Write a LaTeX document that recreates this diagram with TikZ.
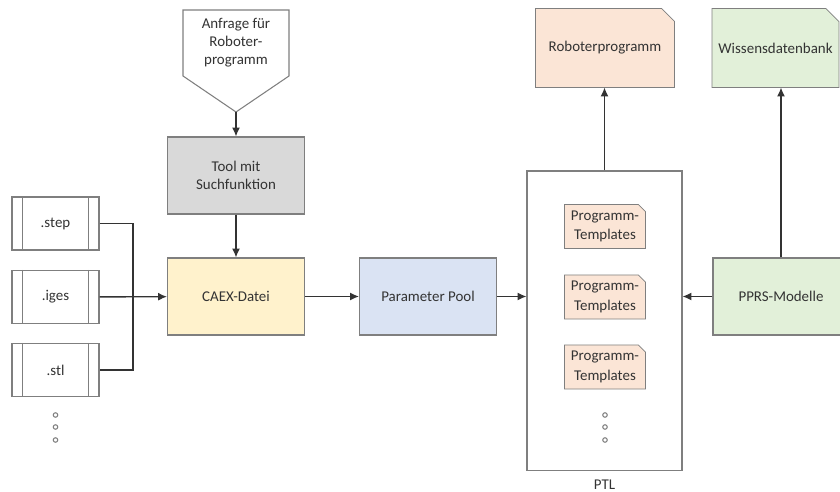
\documentclass[tikz,border=0pt]{standalone}
\usepackage{fontspec}
\setmainfont{Carlito}
\usetikzlibrary{arrows.meta,backgrounds}

\definecolor{boxline}{HTML}{7F7F7F}
\definecolor{toolgray}{HTML}{D9D9D9}
\definecolor{caexyellow}{HTML}{FFF2CC}
\definecolor{poolblue}{HTML}{DAE3F3}
\definecolor{progorange}{HTML}{FBE5D6}
\definecolor{wissgreen}{HTML}{E2F0D9}

\tikzset{
  every node/.style={text=black!80, font=\fontsize{8.5}{10.2}\selectfont},
  block/.style={draw=boxline, minimum width=2.74cm, minimum height=1.54cm, align=center},
  filebox/.style={draw=boxline, minimum width=1.74cm, minimum height=1.06cm},
  tmpl/.style={minimum width=1.56cm, minimum height=0.86cm, align=center,
    font=\fontsize{8.5}{11}\selectfont},
  conn/.style={draw=black!80, line width=0.8pt},
  arr/.style={conn, -{Latex[length=5pt,width=4.5pt]}},
  dotc/.style={draw=boxline, circle, inner sep=0pt, minimum size=0.09cm},
}

\begin{document}
\begin{tikzpicture}[x=0.02cm, y=-0.02cm, line width=0.6pt]
  \useasboundingbox (0,0) rectangle (840,492);

  % request (off-page shape)
  \draw[draw=boxline, fill=white] (183,10) -- (289,10) -- (289,76) -- (236,112) -- (183,76) -- cycle;
  \node[align=center] (req) at (236,43) {Anfrage für\\Roboter-\\programm};
  \coordinate (reqtip) at (236,112);

  \node[block, fill=toolgray] (tool) at (236,175.5) {Tool mit\\Suchfunktion};
  \node[block, fill=caexyellow] (caex) at (236,296.5) {CAEX-Datei};
  \node[block, fill=poolblue] (pool) at (428,296.5) {Parameter Pool};

  % input files
  \node[filebox] (step) at (55.5,223.5) {.step};
  \node[filebox] (iges) at (55.5,297) {.iges};
  \node[filebox] (stl) at (55.5,370) {.stl};
  \foreach \n in {step,iges,stl} {
    \draw[boxline] ([xshift=0.22cm]\n.north west) -- ([xshift=0.22cm]\n.south west);
    \draw[boxline] ([xshift=-0.22cm]\n.north east) -- ([xshift=-0.22cm]\n.south east);
  }
  \foreach \y [count=\i] in {415,427,440}
    \node[dotc] (fdot\i) at (55.5,\y) {};

  % PTL
  \node[draw=boxline, minimum width=3.1cm, minimum height=6cm] (ptl) at (604.5,321) {};
  \node (ptllabel) at (604.5,485) {PTL};
  \node[tmpl] (tmplA) at (605,226.5) {Programm-\\Templates};
  \node[tmpl] (tmplB) at (605,297) {Programm-\\Templates};
  \node[tmpl] (tmplC) at (605,367) {Programm-\\Templates};
  \foreach \y [count=\i] in {415,427,440}
    \node[dotc] (tdot\i) at (605,\y) {};

  % outputs
  \node[minimum width=2.76cm, minimum height=1.56cm] (robprog) at (605,48) {Roboterprogramm};
  \node[minimum width=2.5cm, minimum height=1.56cm] (wissdb) at (775.5,48) {Wissensdatenbank};
  \node[block, fill=wissgreen, minimum width=2.72cm] (pprs) at (781,296.5) {PPRS-Modelle};

  % dog-ear shapes
  \begin{scope}[on background layer]
    \foreach \n/\c/\e in {robprog/progorange/0.26cm, wissdb/wissgreen/0.26cm,
        tmplA/progorange/0.14cm, tmplB/progorange/0.14cm, tmplC/progorange/0.14cm}
      \filldraw[draw=boxline, fill=\c] (\n.south west) -- (\n.north west)
        -- ([xshift=-\e]\n.north east) -- ([yshift=-\e]\n.north east)
        -- (\n.south east) -- cycle;
  \end{scope}

  % connectors
  \coordinate (merge) at (133,297);
  \draw[arr] (reqtip) -- (reqtip |- tool.north);
  \draw[arr] (tool) -- (caex);
  \draw[conn] (step.east) -| (merge) |- (stl.east);
  \draw[arr] (iges) -- (caex);
  \draw[arr] (caex) -- (pool);
  \draw[arr] (pool) -- (pool -| ptl.west);
  \draw[arr] (ptl.north) -- (ptl.north |- robprog.south);
  \draw[arr] (pprs) -- (pprs -| ptl.east);
  \draw[arr] (pprs.north) -- (pprs.north |- wissdb.south);
\end{tikzpicture}
\end{document}
